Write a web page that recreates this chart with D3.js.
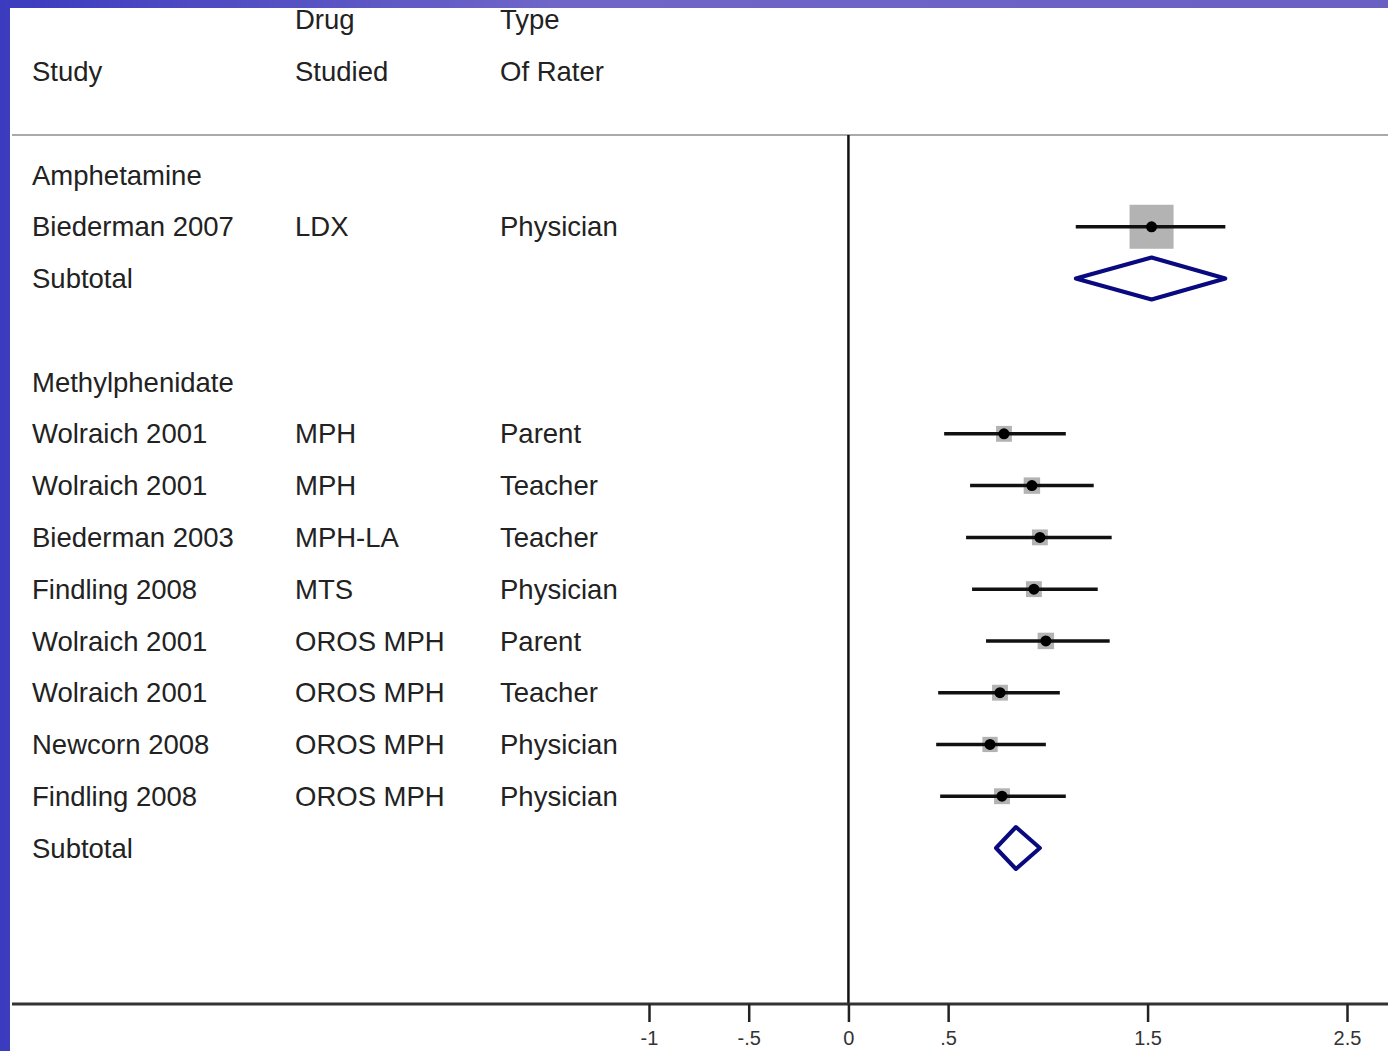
<!DOCTYPE html>
<html>
<head>
<meta charset="utf-8">
<script src="https://cdn.jsdelivr.net/npm/d3@7"></script>
<style>
  body { margin: 0; padding: 0; overflow: hidden; }
  svg { display: block; }
</style>
</head>
<body>
<div id="forest"></div>
<script>
// rows of the plot (index = row position)
var studies = ["Biederman 2007", "Wolraich 2001", "Wolraich 2001", "Biederman 2003", "Findling 2008",
               "Wolraich 2001", "Wolraich 2001", "Newcorn 2008", "Findling 2008"];
var drugs = ["LDX", "MPH", "MPH", "MPH-LA", "MTS", "OROS MPH", "OROS MPH", "OROS MPH", "OROS MPH"];
var raters = ["Physician", "Parent", "Teacher", "Teacher", "Physician", "Parent", "Teacher", "Physician", "Physician"];
var studyRows = [1, 5, 6, 7, 8, 9, 10, 11, 12];
var effect = [1.52, 0.78, 0.92, 0.96, 0.93, 0.99, 0.76, 0.71, 0.77];
var lower = [1.14, 0.48, 0.61, 0.59, 0.62, 0.69, 0.45, 0.44, 0.46];
var upper = [1.89, 1.09, 1.23, 1.32, 1.25, 1.31, 1.06, 0.99, 1.09];
var weight = [100, 13, 14, 13, 13, 14, 13, 12, 13];

var groups = ["Amphetamine", "Methylphenidate"];
var groupRows = [0, 4];

var subtotalRows = [2, 13];
var subEffect = [1.52, 0.84];
var subLower = [1.14, 0.74];
var subUpper = [1.89, 0.96];

var tickValues = [-1, -0.5, 0, 0.5, 1.5, 2.5];
var tickLabels = ["-1", "-.5", "0", ".5", "1.5", "2.5"];

var W = 1388, H = 1051;
var font = "'Liberation Sans', Arial, sans-serif";

var svg = d3.select("#forest").append("svg")
    .attr("width", W)
    .attr("height", H);

// slide background
var defs = svg.append("defs");
var grad = defs.append("linearGradient").attr("id", "bg")
    .attr("x1", 0).attr("y1", 0).attr("x2", 1).attr("y2", 0);
grad.append("stop").attr("offset", "0%").attr("stop-color", "#3b3bbf");
grad.append("stop").attr("offset", "40%").attr("stop-color", "#6f66c8");
grad.append("stop").attr("offset", "100%").attr("stop-color", "#6a60c4");
svg.append("rect").attr("width", W).attr("height", H).attr("fill", "url(#bg)");
svg.append("rect").attr("x", 10).attr("y", 8).attr("width", W - 10).attr("height", H - 8).attr("fill", "#fff");

// scales
var x = d3.scaleLinear().domain([-1, 2.5]).range([649, 1347]);
var y = d3.scaleLinear().domain([0, 13]).range([175, 848]);
var axisY = 1004;
var topY = 135;

// header
var colX = [32, 295, 500];
var header = svg.append("g")
    .attr("font-family", font)
    .attr("font-size", 27.5)
    .attr("fill", "#222");
[["", "Drug", "Type"], ["Study", "Studied", "Of Rater"]].forEach(function (line, li) {
    line.forEach(function (t, i) {
        header.append("text")
            .attr("x", colX[i])
            .attr("y", li === 0 ? 19 : 71)
            .attr("dy", "0.35em")
            .text(t);
    });
});

svg.append("line")
    .attr("x1", 12).attr("x2", W)
    .attr("y1", topY).attr("y2", topY)
    .attr("stroke", "#aaa").attr("stroke-width", 2);

// left text columns
var txt = svg.append("g")
    .attr("font-family", font)
    .attr("font-size", 27.5)
    .attr("fill", "#222");

groups.forEach(function (g, i) {
    txt.append("text").attr("x", colX[0]).attr("y", y(groupRows[i])).attr("dy", "0.35em").text(g);
});
subtotalRows.forEach(function (r) {
    txt.append("text").attr("x", colX[0]).attr("y", y(r)).attr("dy", "0.35em").text("Subtotal");
});
studies.forEach(function (s, i) {
    var yy = y(studyRows[i]);
    txt.append("text").attr("x", colX[0]).attr("y", yy).attr("dy", "0.35em").text(s);
    txt.append("text").attr("x", colX[1]).attr("y", yy).attr("dy", "0.35em").text(drugs[i]);
    txt.append("text").attr("x", colX[2]).attr("y", yy).attr("dy", "0.35em").text(raters[i]);
});

// zero line
svg.append("line")
    .attr("x1", x(0)).attr("x2", x(0))
    .attr("y1", topY).attr("y2", axisY)
    .attr("stroke", "#111").attr("stroke-width", 2.5);

// study marks
var marks = svg.append("g");
studies.forEach(function (s, i) {
    var yy = y(studyRows[i]);
    var side = 44 * Math.sqrt(weight[i] / 100);
    marks.append("rect")
        .attr("x", x(effect[i]) - side / 2)
        .attr("y", yy - side / 2)
        .attr("width", side).attr("height", side)
        .attr("fill", "#b3b3b3");
    marks.append("line")
        .attr("x1", x(lower[i])).attr("x2", x(upper[i]))
        .attr("y1", yy).attr("y2", yy)
        .attr("stroke", "#111").attr("stroke-width", 3.5);
    marks.append("circle")
        .attr("cx", x(effect[i])).attr("cy", yy).attr("r", 5.5)
        .attr("fill", "#000");
});

// subtotal diamonds
subtotalRows.forEach(function (r, i) {
    var yy = y(r), h = 21;
    var pts = [[x(subLower[i]), yy], [x(subEffect[i]), yy - h], [x(subUpper[i]), yy], [x(subEffect[i]), yy + h]];
    svg.append("polygon")
        .attr("points", pts.map(function (p) { return p.join(","); }).join(" "))
        .attr("fill", "#fff")
        .attr("stroke", "#0a0a80")
        .attr("stroke-width", 4)
        .attr("stroke-linejoin", "round");
});

// x axis
svg.append("line")
    .attr("x1", 12).attr("x2", W)
    .attr("y1", axisY).attr("y2", axisY)
    .attr("stroke", "#333").attr("stroke-width", 3);

var xAxis = svg.append("g")
    .attr("transform", "translate(0," + axisY + ")")
    .call(d3.axisBottom(x)
        .tickValues(tickValues)
        .tickFormat(function (d, i) { return tickLabels[i]; })
        .tickSize(18)
        .tickPadding(9));
xAxis.select(".domain").remove();
xAxis.selectAll(".tick line").attr("stroke", "#222").attr("stroke-width", 2.5);
xAxis.selectAll(".tick text")
    .attr("font-family", font)
    .attr("font-size", 20)
    .attr("fill", "#333");
</script>
</body>
</html>
